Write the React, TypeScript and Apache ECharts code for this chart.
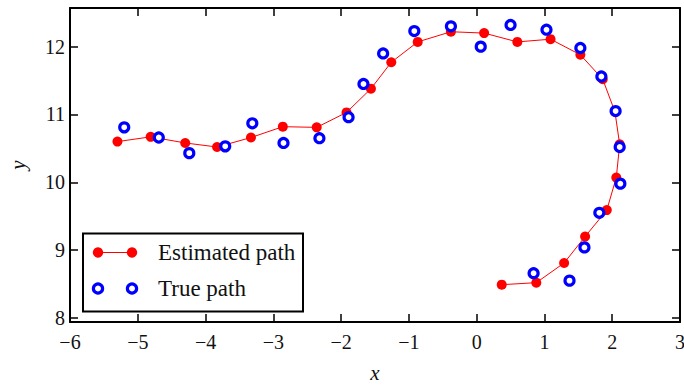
import React, { useEffect, useRef } from "react";
import * as echarts from "echarts";

const estX = [-5.30, -4.81, -4.30, -3.83, -3.33, -2.86, -2.36, -1.92, -1.56, -1.26, -0.87, -0.38, 0.11, 0.60, 1.09, 1.53, 1.86, 2.04, 2.11, 2.06, 1.92, 1.60, 1.29, 0.88, 0.37];
const estY = [10.60, 10.67, 10.58, 10.52, 10.66, 10.82, 10.81, 11.03, 11.38, 11.77, 12.07, 12.22, 12.20, 12.07, 12.11, 11.88, 11.52, 11.04, 10.56, 10.07, 9.59, 9.20, 8.81, 8.52, 8.49];
const trueX = [-5.20, -4.69, -4.24, -3.71, -3.31, -2.85, -2.32, -1.89, -1.67, -1.38, -0.92, -0.38, 0.06, 0.50, 1.03, 1.53, 1.84, 2.05, 2.11, 2.12, 1.81, 1.59, 1.37, 0.84];
const trueY = [10.81, 10.66, 10.43, 10.53, 10.87, 10.58, 10.65, 10.96, 11.45, 11.90, 12.23, 12.30, 12.00, 12.32, 12.25, 11.98, 11.56, 11.05, 10.52, 9.98, 9.55, 9.04, 8.55, 8.66];
const seriesNames = ["Estimated path", "True path"];

const FONT = "'Liberation Serif', 'Times New Roman', serif";

export default function App() {
  const ref = useRef<HTMLDivElement>(null);
  useEffect(() => {
    if (!ref.current) return;
    const chart = echarts.init(ref.current, undefined, { renderer: "svg" });
    const axisLine = { show: true, onZero: false, lineStyle: { color: "#000", width: 2 } };
    const tick = { show: true, inside: true, length: 8, lineStyle: { color: "#000", width: 1.5 } };
    const yFmt = (v: number) => (Math.abs(v - Math.round(v)) < 1e-6 ? String(Math.round(v)) : "");
    const minus = (v: number) => (v < 0 ? "\u2212" + Math.abs(v) : String(v));
    chart.setOption({
      animation: false,
      backgroundColor: "#fff",
      grid: { left: 70, right: 4, top: 8, bottom: 63, containLabel: false, outerBoundsMode: "none" },
      xAxis: [
        {
          type: "value", min: -6, max: 3, interval: 1, position: "bottom",
          axisLine, axisTick: tick, splitLine: { show: false },
          axisLabel: { color: "#111", fontFamily: FONT, fontSize: 20, margin: 10, formatter: minus },
          name: "x", nameLocation: "middle", nameGap: 40,
          nameTextStyle: { color: "#111", fontFamily: FONT, fontSize: 21, fontStyle: "italic" },
        },
        {
          type: "value", min: -6, max: 3, interval: 1, position: "top",
          axisLine, axisTick: tick, splitLine: { show: false }, axisLabel: { show: false },
        },
      ],
      yAxis: [
        {
          type: "value", min: 7.94, max: 12.57, minInterval: 1, maxInterval: 1, splitNumber: 5, position: "left",
          axisLine, axisTick: tick, splitLine: { show: false },
          axisLabel: { color: "#111", fontFamily: FONT, fontSize: 20, margin: 5, formatter: yFmt, showMinLabel: false, showMaxLabel: false },
          name: "y", nameLocation: "middle", nameGap: 42, nameRotate: 90,
          nameTextStyle: { color: "#111", fontFamily: FONT, fontSize: 21, fontStyle: "italic" },
        },
        {
          type: "value", min: 7.94, max: 12.57, minInterval: 1, maxInterval: 1, splitNumber: 5, position: "right",
          axisLine, axisTick: tick, splitLine: { show: false }, axisLabel: { show: false },
        },
      ],
      series: [
        {
          name: seriesNames[0], type: "line", xAxisIndex: 0, yAxisIndex: 0,
          data: estX.map((x, i) => [x, estY[i]]),
          symbol: "circle", symbolSize: 10, showAllSymbol: true,
          lineStyle: { color: "#ff0000", width: 1 },
          itemStyle: { color: "#ff0000" },
          z: 2,
        },
        {
          name: seriesNames[1], type: "scatter", xAxisIndex: 0, yAxisIndex: 0,
          data: trueX.map((x, i) => [x, trueY[i]]),
          symbol: "circle", symbolSize: 9,
          itemStyle: { color: "#ffffff", borderColor: "#0000ff", borderWidth: 3.2, opacity: 1 },
          z: 3,
        },
      ],
      graphic: [
        {
          type: "group", z: 100,
          children: [
            { type: "rect", shape: { x: 83, y: 233.5, width: 220, height: 78 }, style: { fill: "#fff", stroke: "#000", lineWidth: 2 } },
            { type: "line", shape: { x1: 98, y1: 252.5, x2: 132, y2: 252.5 }, style: { stroke: "#ff0000", lineWidth: 1 } },
            { type: "circle", shape: { cx: 98, cy: 252.5, r: 5.2 }, style: { fill: "#ff0000" } },
            { type: "circle", shape: { cx: 132, cy: 252.5, r: 5.2 }, style: { fill: "#ff0000" } },
            { type: "text", x: 158, y: 252.5, style: { text: seriesNames[0], fill: "#111", font: `23px ${FONT}`, verticalAlign: "middle" } },
            { type: "circle", shape: { cx: 98, cy: 288.5, r: 4.6 }, style: { fill: "#fff", stroke: "#0000ff", lineWidth: 3.2 } },
            { type: "circle", shape: { cx: 132, cy: 288.5, r: 4.6 }, style: { fill: "#fff", stroke: "#0000ff", lineWidth: 3.2 } },
            { type: "text", x: 158, y: 288.5, style: { text: seriesNames[1], fill: "#111", font: `23px ${FONT}`, verticalAlign: "middle" } },
          ],
        },
      ],
    });
    return () => chart.dispose();
  }, []);
  return <div ref={ref} style={{ position: "fixed", left: 0, top: 0, width: 684, height: 385 }} />;
}
